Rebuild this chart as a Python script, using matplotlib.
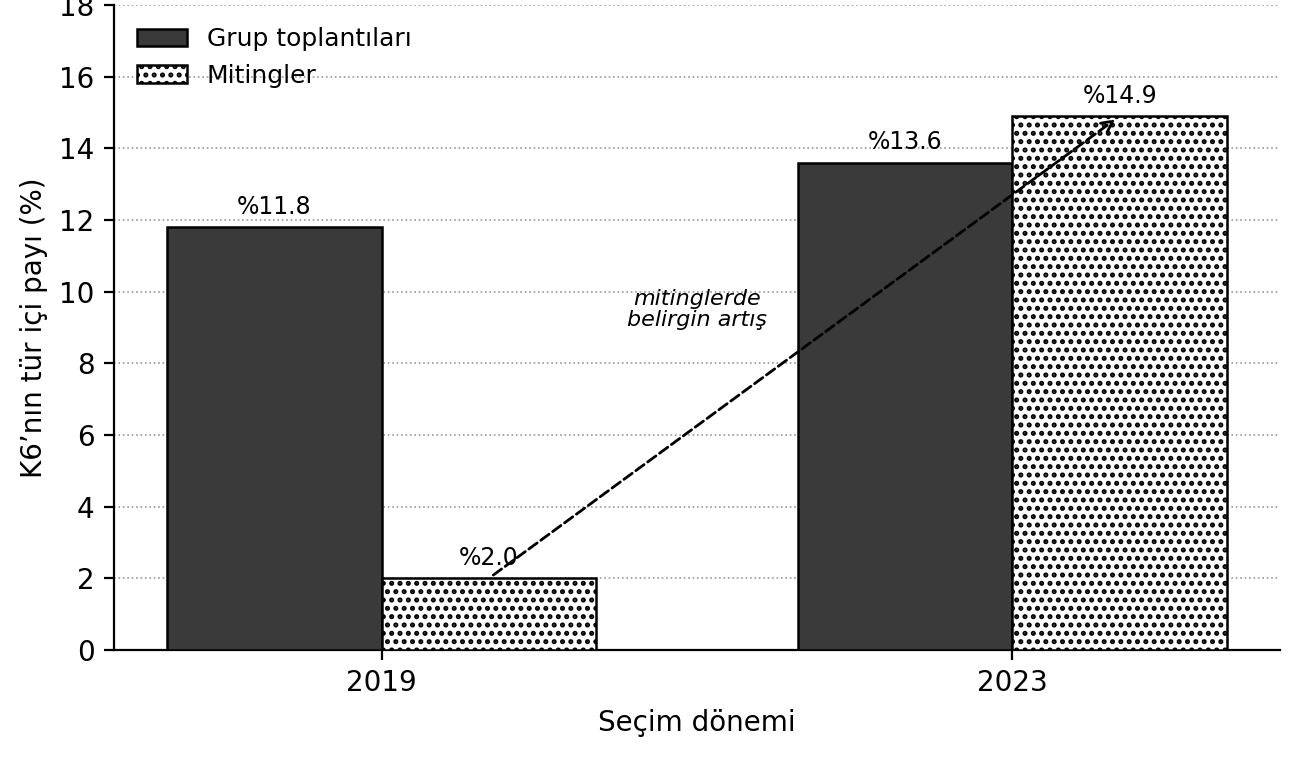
import matplotlib
matplotlib.use("Agg")
import matplotlib.pyplot as plt
import numpy as np

years = ["2019", "2023"]
grup = [11.8, 13.6]
miting = [2.0, 14.9]
series_names = ["Grup toplantıları", "Mitingler"]

plt.rcParams['font.family'] = ['DejaVu Sans']
plt.rcParams['hatch.linewidth'] = 1.2

fig = plt.figure(figsize=(6.5, 3.785), dpi=200)
ax = fig.add_axes([0.0877, 0.1413, 0.9846 - 0.0877, 0.9934 - 0.1413])

x = np.arange(len(years))
w = 0.34
b1 = ax.bar(x - w/2, grup, w, color='#3a3a3a', edgecolor='black', linewidth=0.9,
            label=series_names[0], zorder=3)
b2 = ax.bar(x + w/2, miting, w, color='white', edgecolor='black', linewidth=0.9,
            hatch='....', label=series_names[1], zorder=3)

for bars, vals in ((b1, grup), (b2, miting)):
    ax.bar_label(bars, labels=[f"%{v:.1f}" for v in vals], padding=3, fontsize=8.5)

ax.set_ylim(0, 18)
ax.set_yticks(np.arange(0, 19, 2))
ax.set_xticks(x)
ax.set_xticklabels(years)
ax.tick_params(labelsize=10)
ax.set_xlabel("Seçim dönemi", fontsize=10)
ax.set_ylabel("K6’nın tür içi payı (%)", fontsize=10)
ax.yaxis.grid(True, linestyle=':', color='#999999', linewidth=0.6, zorder=0)
ax.set_axisbelow(True)
ax.spines['top'].set_visible(False)
ax.spines['right'].set_visible(False)

ax.annotate('', xy=(1 + w/2, miting[1]), xytext=(0 + w/2, miting[0]),
            arrowprops=dict(arrowstyle='->', linestyle='--', color='black', lw=1.0),
            zorder=5)
ax.text(0.5, 9.5, "mitinglerde\nbelirgin artış", ha='center', va='center',
        fontsize=8, style='italic', linespacing=1.05, zorder=5)

ax.legend(loc='upper left', frameon=False, fontsize=9)

fig.savefig("out.png", dpi=200)
